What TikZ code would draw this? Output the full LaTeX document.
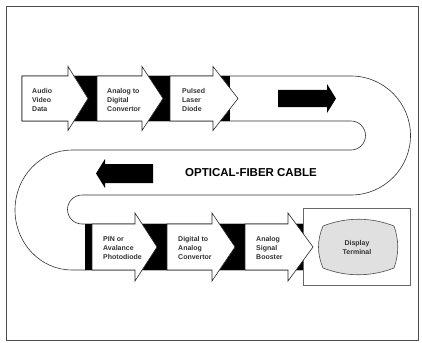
\documentclass[tikz,border=0pt]{standalone}
\usepackage{fontspec}
\setsansfont{Liberation Sans}
\usepackage{tikz}
\usetikzlibrary{positioning}

\begin{document}
\begin{tikzpicture}[
    x=1pt, y=-1pt,
    frame/.style     = {draw=black!70, line width=0.7pt},
    cable/.style     = {draw=black!80, fill=white, line width=0.6pt},
    gapfill/.style   = {fill=black},
    stagearrow/.style = {draw=black!85, fill=white, line width=0.6pt, line join=miter},
    flowarrow/.style = {fill=black},
    stagetext/.style = {anchor=west, align=left, inner sep=0pt, text=black!80,
                        font=\sffamily\bfseries\fontsize{7}{9}\selectfont},
    title/.style     = {inner sep=0pt, font=\sffamily\bfseries\fontsize{11.5}{13}\selectfont},
    termbox/.style   = {draw=black!60, line width=0.6pt, fill=white},
    screen/.style    = {draw=black!70, fill=black!12, line width=0.6pt}
  ]
  \useasboundingbox (0,0) rectangle (422,342);

  % ── Frame ───────────────────────────────────────────────────
  \draw[frame] (6,6) rectangle (418,340);

  % ── Cable band (three runs, two bends) ──────────────────────
  \draw[cable] (22,76) -- (351,76)
    arc[start angle=-90, end angle=90, radius=59.5]
    -- (82,195)
    arc[start angle=-90, end angle=-270, radius=14.5]
    -- (303,224) -- (303,270) -- (72,270)
    arc[start angle=90, end angle=270, x radius=57, y radius=60]
    -- (351,150)
    arc[start angle=90, end angle=-90, radius=14.5]
    -- (22,121) -- cycle;

  % ── Display terminal ────────────────────────────────────────
  \draw[termbox] (303,208) rectangle (410,285);
  \draw[screen] (323,226) .. controls (346,217) and (371,217) .. (394,226)
    .. controls (399,240) and (399,254) .. (394,268)
    .. controls (371,277) and (346,277) .. (323,268)
    .. controls (317,254) and (317,240) .. (323,226) -- cycle;
  \node[stagetext, anchor=center, align=center] (term) at (357,247) {Display\\Terminal};

  % ── Black gaps between stages ───────────────────────────────
  \fill[gapfill] (68,76) rectangle (97,121);
  \fill[gapfill] (142,76) rectangle (170,121);
  \fill[gapfill] (213,76) rectangle (230,121);
  \fill[gapfill] (85,224) rectangle (92,270);
  \fill[gapfill] (135,224) rectangle (167,270);
  \fill[gapfill] (212,224) rectangle (245,270);
  \fill[gapfill] (288,224) rectangle (303,270);

  % ── Transmitter stages (top run) ────────────────────────────
  \draw[stagearrow] (22,76) -- (68,76) -- (68,66.5) -- (88,98.5)
    -- (68,130.5) -- (68,121) -- (22,121) -- cycle;
  \draw[stagearrow] (97,76) -- (142,76) -- (142,66.5) -- (163,98.5)
    -- (142,130.5) -- (142,121) -- (97,121) -- cycle;
  \draw[stagearrow] (170,76) -- (213,76) -- (213,66.5) -- (238,98.5)
    -- (213,130.5) -- (213,121) -- (170,121) -- cycle;

  \node[stagetext] (avd) at (32,100) {Audio\\Video\\Data};
  \node[stagetext] (adc) at (107,100) {Analog to\\Digital\\Convertor};
  \node[stagetext] (pld) at (182,100) {Pulsed\\Laser\\Diode};

  % ── Receiver stages (bottom run) ────────────────────────────
  \draw[stagearrow] (92,224) -- (135,224) -- (135,213) -- (157,247)
    -- (135,281) -- (135,270) -- (92,270) -- cycle;
  \draw[stagearrow] (167,224) -- (212,224) -- (212,213) -- (235,247)
    -- (212,281) -- (212,270) -- (167,270) -- cycle;
  \draw[stagearrow] (245,224) -- (288,224) -- (288,213) -- (313,247)
    -- (288,281) -- (288,270) -- (245,270) -- cycle;

  \node[stagetext] (pin) at (103,248) {PIN or\\Avalance\\Photodiode};
  \node[stagetext] (dac) at (178,248) {Digital to\\Analog\\Convertor};
  \node[stagetext] (asb) at (256,248) {Analog\\Signal\\Booster};

  % ── Flow direction in the fiber ─────────────────────────────
  \fill[flowarrow] (278,90) -- (327,90) -- (327,84) -- (336,98.5)
    -- (327,113) -- (327,107) -- (278,107) -- cycle;
  \fill[flowarrow] (153,164) -- (105,164) -- (105,159) -- (96,173.5)
    -- (105,188) -- (105,183) -- (153,183) -- cycle;

  \node[title] (cbl) at (251,173) {OPTICAL-FIBER CABLE};

\end{tikzpicture}
\end{document}
